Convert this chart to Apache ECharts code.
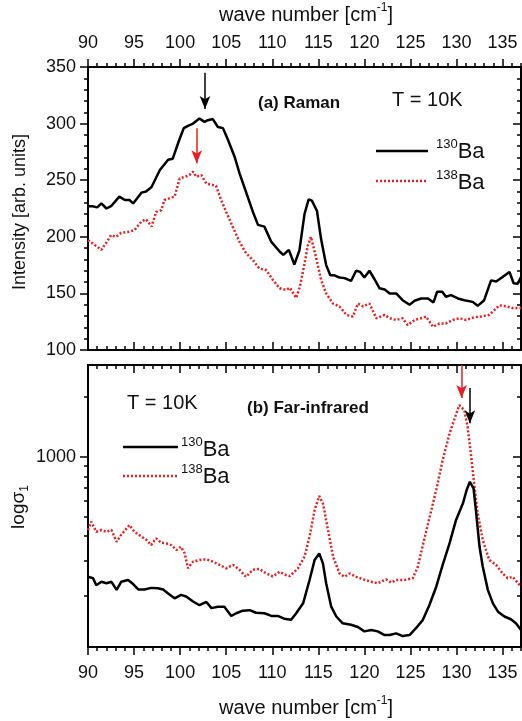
<!DOCTYPE html>
<html>
<head>
<meta charset="utf-8">
<title>Raman and far-infrared spectra of 130Ba / 138Ba</title>
<script src="https://cdn.jsdelivr.net/npm/echarts@6.0.0/dist/echarts.min.js"></script>
<style>
  html, body { margin: 0; padding: 0; background: #fff; }
  #chart { width: 522px; height: 721px; }
</style>
</head>
<body>
<div id="chart"></div>
<script>
  // tick labels and tick marks
  var sigmaTicks = [1000];
  var sigmaMinorTicks = [200, 300, 400, 500, 600, 700, 800, 900, 2000];

  // (a) Raman, T = 10K  [wave number, intensity]
  var raman130 = [[90.0, 227], [90.5, 227], [91.0, 226], [91.45, 229.5], [92.0, 225], [92.5, 227], [93.4, 235.5],
    [94.0, 232.5], [94.5, 232.5], [94.9, 229.5], [95.8, 239], [96.3, 240], [96.9, 244], [97.8, 259], [98.7, 268],
    [99.2, 269], [99.9, 285.5], [100.4, 296], [100.85, 298], [101.4, 300], [102.1, 304.5], [102.65, 301.5],
    [103.0, 303], [103.55, 304], [104.1, 297], [104.65, 296], [105.2, 285.5], [105.9, 271], [106.45, 256],
    [107.2, 238.5], [107.9, 222], [108.45, 210.5], [109.15, 209], [109.9, 195.5], [110.8, 187], [111.2, 184],
    [111.8, 188.5], [112.4, 175.5], [112.95, 188], [113.5, 220], [113.95, 233], [114.3, 232], [114.85, 223],
    [115.3, 198], [115.85, 175], [116.3, 166], [116.75, 166], [117.3, 164], [117.85, 163.5], [118.55, 161],
    [119.1, 170], [119.55, 169], [120.0, 164], [120.55, 170], [121.1, 162.5], [121.65, 154.5], [122.2, 153.5],
    [122.75, 150], [123.45, 150], [124.15, 144], [124.9, 140], [125.45, 143.5], [126.15, 145.5], [126.9, 145.5],
    [127.5, 142], [127.9, 151.5], [128.45, 151.5], [128.85, 147], [129.4, 148.5], [130.15, 145.5], [130.85, 144],
    [131.75, 142.5], [132.3, 139], [133.0, 144], [133.75, 161.5], [134.3, 160.5], [135.0, 164.5], [135.75, 169],
    [136.2, 159], [136.65, 158.5], [137.0, 164.5]];
  var raman138 = [[90.0, 197], [90.7, 193], [91.45, 188.5], [92.0, 195], [92.5, 201.5], [93.05, 200], [93.6, 203.5],
    [94.5, 204.5], [95.05, 206], [95.8, 213.5], [96.3, 215.5], [96.9, 209], [97.4, 222], [97.95, 223.5],
    [98.3, 232.5], [98.85, 234], [99.4, 235.5], [99.95, 251.5], [100.5, 253], [101.0, 254.5], [101.4, 257.5],
    [101.75, 253], [102.3, 254.5], [102.85, 247], [103.4, 246], [103.9, 245], [104.45, 232.5], [105.0, 222],
    [105.7, 209], [106.45, 195.5], [107.15, 185.5], [107.9, 179.5], [108.6, 172], [109.35, 170.5], [110.05, 162],
    [110.8, 154.5], [111.5, 153], [111.9, 155], [112.6, 146], [113.0, 156], [113.5, 176], [113.85, 192],
    [114.2, 200], [114.75, 182], [115.3, 162], [115.85, 150], [116.6, 141], [117.3, 138.5], [118.05, 131],
    [118.75, 129.5], [119.3, 141], [119.85, 138.5], [120.55, 141], [121.3, 128], [122.2, 131], [122.75, 128],
    [123.45, 126.5], [124.15, 128], [124.7, 122], [125.45, 126.5], [126.15, 128], [126.7, 129.5], [127.45, 120.5],
    [128.15, 123.5], [128.85, 123.5], [129.6, 126.5], [130.3, 128], [131.05, 126.5], [131.95, 129], [132.65, 129.5],
    [133.55, 131], [134.65, 139.5], [135.4, 138.5], [136.1, 137], [137.0, 137]];

  // (b) Far-infrared, T = 10K  [wave number, sigma1]
  var fir130 = [[90.0, 250], [90.55, 246], [90.9, 227], [91.45, 236], [92.0, 232], [92.55, 236], [93.1, 215],
    [93.6, 236], [94.35, 241], [94.9, 230], [95.45, 216], [96.15, 216], [96.85, 220], [97.6, 219], [98.15, 216],
    [98.7, 206], [99.4, 195], [100.1, 203], [100.65, 199], [101.4, 188], [102.1, 180], [102.85, 187], [103.4, 174],
    [104.1, 177], [104.8, 177], [105.55, 159], [106.1, 164], [106.8, 169], [107.55, 170], [108.25, 165],
    [109.15, 164], [109.9, 159], [110.6, 159], [111.3, 154], [112.05, 152], [112.6, 164], [113.35, 184],
    [114.05, 241], [114.6, 304], [115.1, 328], [115.5, 292], [115.85, 232], [116.4, 177], [116.95, 158],
    [117.65, 146], [118.55, 143.5], [119.3, 140], [120.0, 133], [120.75, 135], [121.45, 133], [122.2, 127.5],
    [122.75, 127.5], [123.45, 130], [124.15, 126], [124.9, 127.5], [125.6, 138], [126.35, 152], [127.05, 180],
    [127.8, 223], [128.5, 287], [129.25, 369], [129.95, 483], [130.7, 585], [131.1, 683], [131.45, 751],
    [131.85, 696], [132.1, 542], [132.5, 354], [132.85, 281], [133.4, 215], [133.95, 184], [134.5, 167],
    [135.2, 158], [135.9, 153], [136.45, 146], [137.0, 135]];
  var fir138 = [[90.0, 430], [90.35, 473], [90.9, 421], [91.45, 430], [92.0, 421], [92.55, 430], [93.1, 375],
    [93.6, 406], [94.5, 455], [95.05, 421], [95.8, 398], [96.35, 383], [96.85, 361], [97.4, 390], [97.95, 371],
    [98.5, 368], [99.05, 361], [99.6, 341], [100.1, 354], [100.5, 328], [100.85, 276], [101.4, 298], [102.1, 304],
    [102.85, 306], [103.55, 298], [104.3, 287], [105.0, 276], [105.75, 287], [106.45, 271], [107.15, 250],
    [107.9, 271], [108.6, 274], [109.35, 260], [110.05, 251], [110.8, 265], [111.5, 255], [111.9, 252],
    [112.8, 276], [113.5, 316], [114.05, 398], [114.6, 542], [115.1, 637], [115.5, 585], [116.05, 430],
    [116.6, 316], [117.3, 260], [117.85, 250], [118.4, 260], [119.1, 250], [119.85, 243], [120.75, 236],
    [121.45, 232], [122.35, 243], [122.9, 234], [123.45, 241], [124.35, 241], [125.25, 246], [125.8, 281],
    [126.35, 361], [127.05, 492], [127.8, 683], [128.5, 966], [129.25, 1315], [129.8, 1564], [130.3, 1824],
    [130.85, 1722], [131.2, 1420], [131.6, 1000], [131.95, 709], [132.3, 521], [132.85, 383], [133.55, 304],
    [134.3, 287], [135.0, 260], [135.55, 246], [136.1, 250], [137.0, 223]];

  // peak arrows: [wave number, from, to]
  var ramanArrow130 = [102.7, 345, 313];
  var ramanArrow138 = [101.8, 296, 265];
  var firArrow130 = [131.45, 2220, 1480];
  var firArrow138 = [130.55, 2900, 1980];

  var font = '"Liberation Sans", Arial, sans-serif';
  var red = '#ee1c1c';
  var tickStyle = {color: '#000', width: 1.5};

  // major axis: every 5 with labels; minor axis: every 1
  function waveAxis(grid, position, step, len, inside, labels, line) {
    return {
      type: 'value', gridIndex: grid, position: position, min: 90, max: 137, interval: step,
      axisLine: {show: line, onZero: false, lineStyle: {color: '#000', width: 2}},
      axisTick: {show: true, inside: inside, length: len, lineStyle: tickStyle},
      axisLabel: {show: labels, showMaxLabel: false, margin: position === 'top' ? 15 : 17,
        fontSize: 18, color: '#111', fontFamily: font},
      splitLine: {show: false}
    };
  }

  function intensityAxis(position, inside, labels) {
    return {
      type: 'value', gridIndex: 0, position: position, min: 100, max: 350, interval: 50,
      axisLine: {show: true, onZero: false, lineStyle: {color: '#000', width: 2}},
      axisTick: {show: true, inside: inside, length: 8, lineStyle: tickStyle},
      minorTick: {show: true, splitNumber: 5, length: 4, lineStyle: tickStyle},
      axisLabel: {show: labels, margin: 12, fontSize: 18, color: '#111', fontFamily: font},
      splitLine: {show: false}
    };
  }

  function sigmaAxis(position, ticks, len, inside, labels, line) {
    return {
      type: 'log', logBase: 10, gridIndex: 1, position: position, min: 111, max: 2900,
      axisLine: {show: line, onZero: false, lineStyle: {color: '#000', width: 2}},
      axisTick: {show: true, inside: inside, length: len, customValues: ticks, lineStyle: tickStyle},
      axisLabel: labels ? {show: true, customValues: sigmaTicks, margin: 12, fontSize: 18, color: '#111',
        fontFamily: font, formatter: function (v) { return String(Math.round(v)); }} : {show: false},
      splitLine: {show: false}
    };
  }

  function arrow(a, color) {
    return {
      silent: true, symbol: ['none', 'arrow'], symbolSize: [8, 13], animation: false,
      label: {show: false},
      lineStyle: {color: color, width: 1.5, type: 'solid'},
      data: [[{coord: [a[0], a[1]]}, {coord: [a[0], a[2]]}]]
    };
  }

  function text(x, y, str, size, bold, extra) {
    var el = {type: 'text', x: x, y: y, style: {text: str, fontSize: size, fontFamily: font,
      fontWeight: bold ? 'bold' : 'normal', fill: '#111', align: 'left', verticalAlign: 'middle'}};
    if (extra) { for (var k in extra) { el.style[k] = extra[k]; } }
    return el;
  }

  var isoRich = {
    s: {fontSize: 13, fontFamily: font, fill: '#111', verticalAlign: 'top', lineHeight: 14},
    b: {fontSize: 22, fontFamily: font, fill: '#111', lineHeight: 28}
  };
  var titleRich = {
    m: {fontSize: 20, fontFamily: font, fill: '#111', lineHeight: 26},
    s: {fontSize: 12, fontFamily: font, fill: '#111', verticalAlign: 'top', lineHeight: 14}
  };

  function legendLine(x1, x2, y, color, dash) {
    return {type: 'line', shape: {x1: x1, y1: y, x2: x2, y2: y},
      style: {stroke: color, lineWidth: 2.5, lineDash: dash}};
  }

  var chart = echarts.init(document.getElementById('chart'));
  chart.setOption({
    animation: false,
    backgroundColor: '#fff',
    grid: [
      {left: 88, top: 67, width: 433, height: 283},
      {left: 88, top: 365, width: 433, height: 282}
    ],
    xAxis: [
      waveAxis(0, 'top', 5, 8, false, true, true),
      waveAxis(0, 'top', 1, 4, false, false, false),
      waveAxis(0, 'bottom', 5, 8, true, false, true),
      waveAxis(0, 'bottom', 1, 4, true, false, false),
      waveAxis(1, 'bottom', 5, 8, false, true, true),
      waveAxis(1, 'bottom', 1, 4, false, false, false),
      waveAxis(1, 'top', 5, 8, true, false, true),
      waveAxis(1, 'top', 1, 4, true, false, false)
    ],
    yAxis: [
      intensityAxis('left', false, true),
      intensityAxis('right', true, false),
      sigmaAxis('left', sigmaTicks, 8, false, true, true),
      sigmaAxis('left', sigmaMinorTicks, 4, false, false, false),
      sigmaAxis('right', sigmaTicks, 8, true, false, true),
      sigmaAxis('right', sigmaMinorTicks, 4, true, false, false)
    ],
    series: [
      {name: '138Ba Raman', type: 'line', xAxisIndex: 0, yAxisIndex: 0, data: raman138, showSymbol: false,
        lineStyle: {color: red, width: 2.5, type: [2, 2]}, markLine: arrow(ramanArrow138, red)},
      {name: '130Ba Raman', type: 'line', xAxisIndex: 0, yAxisIndex: 0, data: raman130, showSymbol: false,
        lineStyle: {color: '#000', width: 2.5}, markLine: arrow(ramanArrow130, '#000')},
      {name: '138Ba FIR', type: 'line', xAxisIndex: 4, yAxisIndex: 2, data: fir138, showSymbol: false,
        lineStyle: {color: red, width: 2.5, type: [2, 2]}, markLine: arrow(firArrow138, red)},
      {name: '130Ba FIR', type: 'line', xAxisIndex: 4, yAxisIndex: 2, data: fir130, showSymbol: false,
        lineStyle: {color: '#000', width: 2.5}, markLine: arrow(firArrow130, '#000')}
    ],
    graphic: [
      text(306, 15, '{m|wave number [cm}{s|-1}{m|]}', 20, false, {rich: titleRich, align: 'center'}),
      text(306, 708, '{m|wave number [cm}{s|-1}{m|]}', 20, false, {rich: titleRich, align: 'center'}),
      {type: 'text', x: 20, y: 212, rotation: Math.PI / 2,
        style: {text: 'Intensity [arb. units]', fontSize: 18, fontFamily: font, fill: '#111',
          align: 'center', verticalAlign: 'middle'}},
      {type: 'text', x: 19, y: 507, rotation: Math.PI / 2,
        style: {text: '{m|logσ}{s|1}', align: 'center', verticalAlign: 'middle',
          rich: {m: {fontSize: 19, fontFamily: font, fill: '#111', lineHeight: 24},
            s: {fontSize: 12, fontFamily: font, fill: '#111', verticalAlign: 'bottom', lineHeight: 12}}}},
      // panel (a)
      text(258, 103, '(a) Raman', 17, true),
      text(392, 100, 'T = 10K', 20, false),
      legendLine(376, 428, 151, '#000', null),
      text(436, 152, '{s|130}{b|Ba}', 22, false, {rich: isoRich}),
      legendLine(376, 427, 181, red, [2, 2]),
      text(436, 183, '{s|138}{b|Ba}', 22, false, {rich: isoRich}),
      // panel (b)
      text(127, 403, 'T = 10K', 20, false),
      text(247, 408, '(b) Far-infrared', 17, true),
      legendLine(123, 178, 447, '#000', null),
      text(181, 450, '{s|130}{b|Ba}', 22, false, {rich: isoRich}),
      legendLine(123, 178, 476, red, [2, 2]),
      text(181, 477, '{s|138}{b|Ba}', 22, false, {rich: isoRich})
    ]
  });
</script>
</body>
</html>
